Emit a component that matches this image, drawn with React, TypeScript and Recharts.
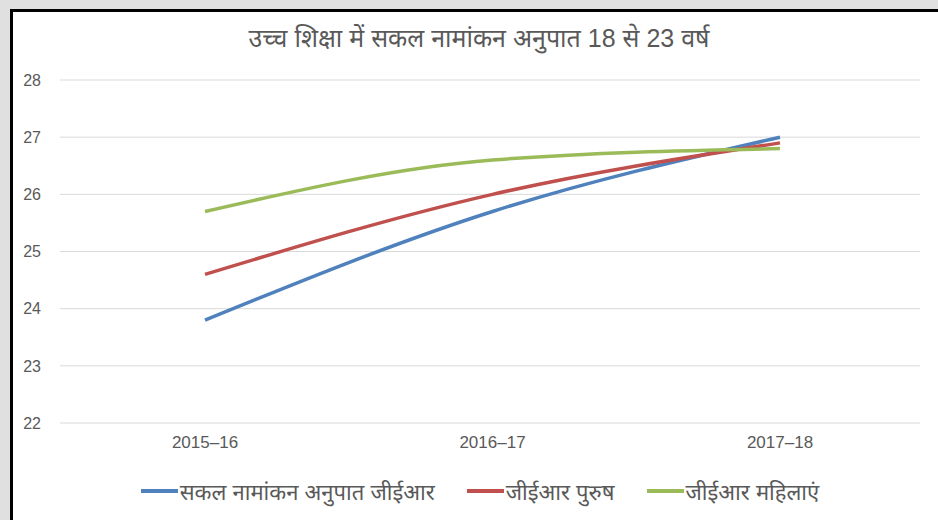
import React from "react";
import { LineChart, Line, XAxis, YAxis, CartesianGrid, Legend } from "recharts";

const title = "उच्च शिक्षा में सकल नामांकन अनुपात 18 से 23 वर्ष";
const categories = ["2015–16", "2016–17", "2017–18"];
const gerTotal = [23.8, 25.7, 27.0];
const gerMale = [24.6, 26.0, 26.9];
const gerFemale = [25.7, 26.6, 26.8];
const seriesNames = ["सकल नामांकन अनुपात जीईआर", "जीईआर पुरुष", "जीईआर महिलाएं"];
const seriesColors = ["#4F81BD", "#C0504D", "#9BBB59"];
const yTicks = [22, 23, 24, 25, 26, 27, 28];

const data = categories.map((c, i) => ({
  year: c,
  total: gerTotal[i],
  male: gerMale[i],
  female: gerFemale[i],
}));

const keys = ["total", "male", "female"];

const FONT = "'Liberation Sans', 'Noto Sans', sans-serif";

const renderLegend = () => (
  <div style={{ display: "flex", justifyContent: "center", alignItems: "center", fontFamily: FONT, fontSize: 22, color: "#595959", position: "relative", left: 20 }}>
    {seriesNames.map((n, i) => (
      <div key={n} style={{ display: "flex", alignItems: "center", marginRight: i < 2 ? 32 : 0 }}>
        <div style={{ width: 37, height: 4, background: seriesColors[i], marginRight: 2 }} />
        <span>{n}</span>
      </div>
    ))}
  </div>
);

export default function App() {
  return (
    <div style={{ position: "absolute", left: 0, top: 0, width: 938, height: 520, background: "#e0e0e0", overflow: "hidden" }}>
      <div style={{ position: "absolute", left: 10, top: 9, width: 940, height: 520, background: "#fff", borderLeft: "3px solid #000", borderTop: "3px solid #000" }} />
      <div style={{ position: "absolute", left: 0, top: 20, width: 958, textAlign: "center", fontFamily: FONT, fontSize: 25, color: "#595959" }}>
        {title}
      </div>
      <div style={{ position: "absolute", left: 0, top: 0 }}>
        <LineChart width={938} height={520} data={data} margin={{ top: 80, right: 18, left: 0, bottom: 14 }}>
          <CartesianGrid vertical={false} stroke="#d9d9d9" strokeWidth={1} />
          <XAxis dataKey="year" axisLine={false} tickLine={false} tickMargin={7} height={53}
            padding={{ left: 145, right: 140 }}
            tick={{ fill: "#595959", fontSize: 17, fontFamily: FONT }} />
          <YAxis domain={[22, 28]} ticks={yTicks} width={60} axisLine={false} tickLine={false} tickMargin={13}
            tick={{ fill: "#595959", fontSize: 16, fontFamily: FONT }} />
          <Legend verticalAlign="bottom" content={renderLegend} />
          {keys.map((k, i) => (
            <Line key={k} type="monotone" dataKey={k} name={seriesNames[i]} stroke={seriesColors[i]} strokeWidth={3.5}
              dot={false} activeDot={false} isAnimationActive={false} />
          ))}
        </LineChart>
      </div>
    </div>
  );
}
